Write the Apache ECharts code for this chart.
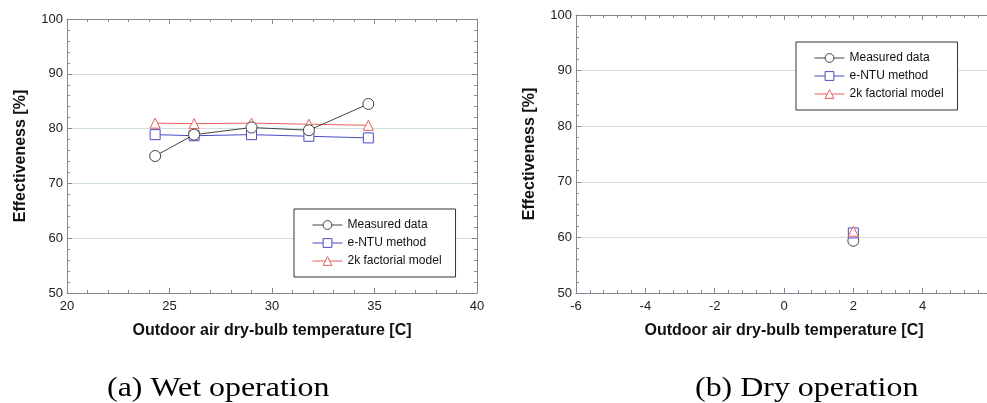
<!DOCTYPE html>
<html><head><meta charset="utf-8">
<script src="https://cdn.jsdelivr.net/npm/echarts@6/dist/echarts.min.js"></script>
<style>html,body{margin:0;padding:0;background:#fff}#c{width:987px;height:403px}</style>
</head><body><div id="c"></div>
<script>
// Wet operation (a)
var xWet = [24.3, 26.2, 29.0, 31.8, 34.7];
var measuredWet = [75.0, 78.9, 80.2, 79.7, 84.5];
var entuWet = [78.9, 78.7, 78.9, 78.6, 78.3];
var factWet = [81.0, 80.9, 81.0, 80.8, 80.6];
// Dry operation (b)
var xDry = [2];
var measuredDry = [59.4];
var entuDry = [60.8];
var factDry = [61.1];

var seriesNames = ['Measured data', 'e-NTU method', '2k factorial model'];
var captions = ['(a) Wet operation', '(b) Dry operation'];
var yName = 'Effectiveness [%]';
var xName = 'Outdoor air dry-bulb temperature [C]';

var axisColor = '#8e8496';
function pairs(xs, ys){ return xs.map(function(x,i){return [x, ys[i]];}); }

function xAx(gi, min, max, interval, top){
  return {
    type:'value', gridIndex: gi, min:min, max:max, interval:interval,
    position: top ? 'top' : 'bottom',
    name: top ? '' : xName, nameLocation:'middle', nameGap: 30,
    nameTextStyle:{fontFamily:'Liberation Sans', fontWeight:'bold', fontSize:16, color:'#111'},
    axisLine:{show:true, onZero:false, lineStyle:{color:axisColor, width:1}},
    axisTick:{show:true, inside:true, length:5, lineStyle:{color:axisColor}},
    minorTick:{show:true, splitNumber:5, length:3, lineStyle:{color:axisColor}},
    axisLabel:{show:!top, margin:7, fontFamily:'Liberation Sans', fontSize:13, color:'#222'},
    splitLine:{show:false}
  };
}
function yAx(gi, right, gridColor){
  return {
    type:'value', gridIndex: gi, min:50, max:100, interval:10,
    position: right ? 'right' : 'left',
    name: right ? '' : yName, nameLocation:'middle', nameGap: 38,
    nameTextStyle:{fontFamily:'Liberation Sans', fontWeight:'bold', fontSize:16, color:'#111'},
    axisLine:{show:true, onZero:false, lineStyle:{color:axisColor, width:1}},
    axisTick:{show:true, inside:true, length:5, lineStyle:{color:axisColor}},
    minorTick:{show:true, splitNumber:5, length:3, lineStyle:{color:axisColor}},
    axisLabel:{show:!right, margin:4, fontFamily:'Liberation Sans', fontSize:13, color:'#222'},
    splitLine:{show:!right, lineStyle:{color:gridColor, width:1}}
  };
}
function mkSeries(name, data, xi, yi, symbol, color, size){
  return {
    name:name, type:'line', xAxisIndex:xi, yAxisIndex:yi, data:data,
    symbol:symbol, symbolSize:size, showSymbol:true,
    lineStyle:{color:color, width:1},
    itemStyle:{color:'#fff', borderColor:color, borderWidth:1},
    emphasis:{disabled:true}, animation:false
  };
}
var colors = ['#444444', '#4b4bc4', '#e8605c'];
var symbols = ['circle', 'rect', 'triangle'];
var sizes = [11, 10, 10];
var zs = [4, 3, 2];
var wetData = [measuredWet, entuWet, factWet];
var dryData = [measuredDry, entuDry, factDry];

var series = [];
seriesNames.forEach(function(n,i){
  var s = mkSeries(n, pairs(xWet, wetData[i]), 0, 0, symbols[i], colors[i], sizes[i]);
  s.z = zs[i]; series.push(s);
});
seriesNames.forEach(function(n,i){
  var s = mkSeries(n, pairs(xDry, dryData[i]), 2, 2, symbols[i], colors[i], sizes[i]);
  s.z = i + 2; series.push(s);
});

function legend(left, top){
  return {
    orient:'vertical', left:left, top:top, selectedMode:false,
    data: seriesNames,
    backgroundColor:'#fff', borderColor:'#333', borderWidth:1,
    padding:[10, 14, 10, 18], itemGap:6, itemWidth:30, itemHeight:11,
    lineStyle:{width:1},
    itemStyle:{borderWidth:1},
    textStyle:{fontFamily:'Liberation Sans', fontSize:12, color:'#111'}
  };
}

var chart = echarts.init(document.getElementById('c'), null, {renderer:'canvas'});
chart.setOption({
  backgroundColor:'#fff',
  animation:false,
  grid:[
    {left:67, top:19, width:410, height:274, outerBoundsMode:'none'},
    {left:576, top:15, width:416, height:278, outerBoundsMode:'none'}
  ],
  xAxis:[ xAx(0,20,40,5,false), xAx(0,20,40,5,true), xAx(1,-6,6,2,false), xAx(1,-6,6,2,true) ],
  yAxis:[ yAx(0,false,'#cfe0dc'), yAx(0,true), yAx(1,false,'#d8dede'), yAx(1,true) ],
  legend:[ legend(294, 209), legend(796, 42) ],
  series: series,
  graphic:[
    {type:'text', x:107, y:403, scaleX:1.14, style:{text:captions[0], fontFamily:'Liberation Serif', fontSize:28, fill:'#000', textVerticalAlign:'bottom', verticalAlign:'bottom'}},
    {type:'text', x:695, y:403, scaleX:1.14, style:{text:captions[1], fontFamily:'Liberation Serif', fontSize:28, fill:'#000', textVerticalAlign:'bottom', verticalAlign:'bottom'}}
  ]
});
</script></body></html>
